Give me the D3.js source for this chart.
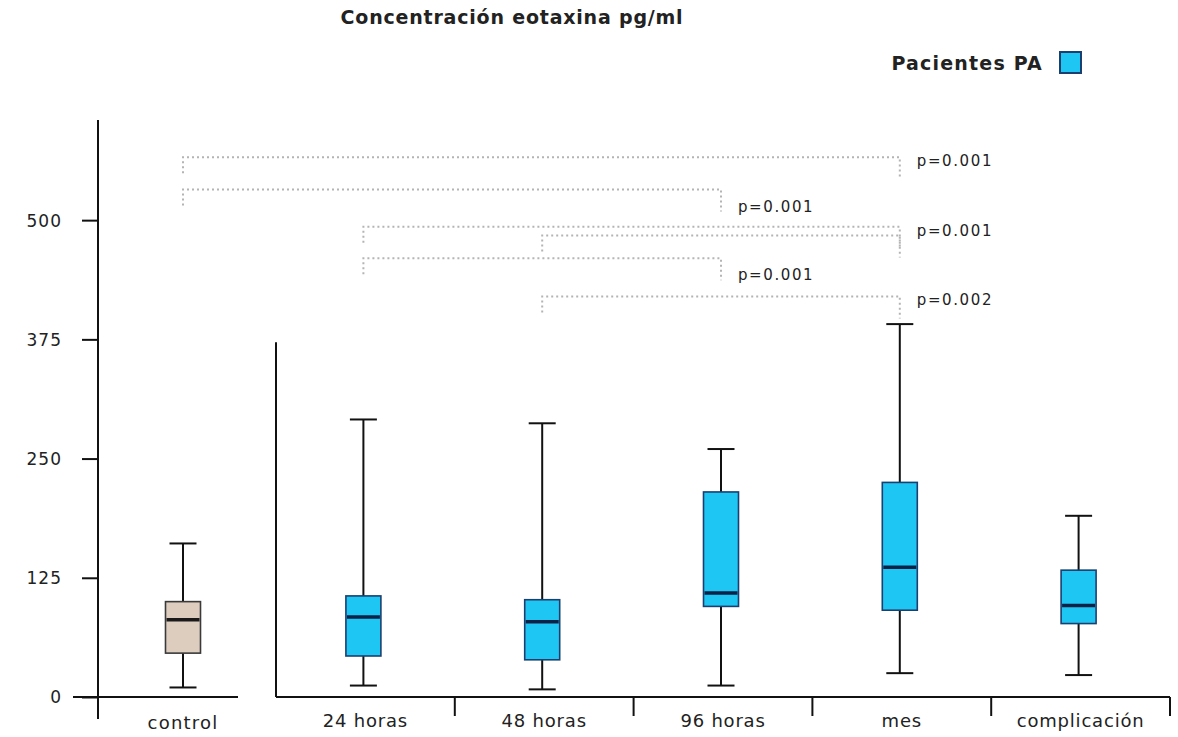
<!DOCTYPE html>
<html>
<head>
<meta charset="utf-8">
<script src="https://cdn.jsdelivr.net/npm/d3@7"></script>
<style>
  html, body { margin: 0; padding: 0; background: #fff; }
  svg { display: block; }
  text { font-family: "DejaVu Sans", Verdana, sans-serif; fill: #222; }
</style>
</head>
<body>
<svg id="chart" width="1178" height="737"></svg>
<script>
// Box-plot summaries per group (pg/ml)
const categories   = ["control", "24 horas", "48 horas", "96 horas", "mes", "complicación"];
const groupOf      = ["control", "PA", "PA", "PA", "PA", "PA"];
const whiskerLow   = [10, 12, 8, 12, 25, 23];
const quartile1    = [46, 43, 39, 95, 91, 77];
const medians      = [81, 84, 79, 109, 136, 96];
const quartile3    = [100, 106, 102, 215, 225, 133];
const whiskerHigh  = [161, 291, 287, 260, 391, 190];

const yTicks = [0, 125, 250, 375, 500];

// Pairwise comparisons drawn as dotted brackets
const compFrom  = ["control", "control", "24 horas", "48 horas", "24 horas", "48 horas"];
const compTo    = ["mes", "96 horas", "mes", "mes", "96 horas", "mes"];
const compLevel = [566, 532, 493, 484, 460, 420];
const compLabel = ["p=0.001", "p=0.001", "p=0.001", "", "p=0.001", "p=0.002"];

const titleText  = "Concentración eotaxina pg/ml";
const legendText = "Pacientes PA";

const colors = { control: "#dccdbf", PA: "#1ec6f4" };
const strokes = { control: "#3a3a3a", PA: "#1d3f70" };
const medianColor = { control: "#1a1a1a", PA: "#0c2146" };

const svg = d3.select("#chart");

const y = d3.scaleLinear().domain([0, 605]).range([697, 120]);

// Control panel and patient panel each get their own band scale
const xControl = d3.scaleBand().domain(["control"]).range([98, 268]);
const patientCats = categories.filter((c, i) => groupOf[i] === "PA");
const xPA = d3.scaleBand().domain(patientCats).range([276, 1170]);
const xPos = c => c === "control" ? xControl(c) + xControl.bandwidth() / 2
                                  : xPA(c) + xPA.bandwidth() / 2 - 2;

// Title
svg.append("text")
  .attr("x", 512).attr("y", 24)
  .attr("text-anchor", "middle")
  .style("font-weight", "bold").style("font-size", "19px")
  .style("letter-spacing", "0.8px")
  .text(titleText);

// Legend
const legend = svg.append("g");
legend.append("text")
  .attr("x", 1043).attr("y", 70)
  .attr("text-anchor", "end")
  .style("font-weight", "bold").style("font-size", "19px")
  .style("letter-spacing", "1.2px")
  .text(legendText);
legend.append("rect")
  .attr("x", 1060).attr("y", 52).attr("width", 21).attr("height", 21)
  .attr("fill", colors.PA).attr("stroke", strokes.PA).attr("stroke-width", 2);

// Y axis
const yAxis = svg.append("g")
  .attr("transform", "translate(98,0)")
  .call(d3.axisLeft(y).tickValues(yTicks).tickSize(16).tickPadding(20));
yAxis.select(".domain").remove();
yAxis.selectAll(".tick line").attr("stroke", "#111").attr("stroke-width", 2);
yAxis.selectAll(".tick text")
  .style("font-size", "17px").style("letter-spacing", "1px")
  .attr("fill", "#222").attr("dy", "0.35em");
svg.append("line")
  .attr("x1", 98).attr("x2", 98).attr("y1", y(605)).attr("y2", y(0) + 22)
  .attr("stroke", "#111").attr("stroke-width", 2);

// Control x axis segment
svg.append("line")
  .attr("x1", 73).attr("x2", 238).attr("y1", y(0)).attr("y2", y(0))
  .attr("stroke", "#111").attr("stroke-width", 2);
svg.append("text")
  .attr("x", xPos("control")).attr("y", 729)
  .attr("text-anchor", "middle")
  .style("font-size", "18px").style("letter-spacing", "1.2px")
  .text("control");

// Patient panel axes
svg.append("line")
  .attr("x1", 276).attr("x2", 276).attr("y1", y(372)).attr("y2", y(0))
  .attr("stroke", "#111").attr("stroke-width", 2);
const xAxisPA = svg.append("g")
  .attr("transform", `translate(0,${y(0)})`)
  .call(d3.axisBottom(xPA).tickSize(0).tickPadding(26));
xAxisPA.select(".domain").attr("stroke", "#111").attr("stroke-width", 2)
  .attr("d", `M276,0H1170`);
xAxisPA.selectAll(".tick text")
  .style("font-size", "18px").style("letter-spacing", "0.8px")
  .attr("fill", "#222").attr("dy", "0.2em");
// boundary ticks between patient categories
xAxisPA.selectAll(".bound")
  .data(patientCats.slice(1).concat(["__end"]))
  .join("line")
  .attr("class", "bound")
  .attr("x1", d => d === "__end" ? xPA.range()[1] : xPA(d))
  .attr("x2", d => d === "__end" ? xPA.range()[1] : xPA(d))
  .attr("y1", 0).attr("y2", 19)
  .attr("stroke", "#111").attr("stroke-width", 2);

// Boxes
const boxW = 35, capW = 27;
const rows = categories.map((c, i) => ({
  cat: c, group: groupOf[i],
  lo: whiskerLow[i], q1: quartile1[i], med: medians[i], q3: quartile3[i], hi: whiskerHigh[i]
}));

const boxes = svg.append("g").selectAll("g.box").data(rows).join("g").attr("class", "box");
boxes.append("line")
  .attr("x1", d => xPos(d.cat)).attr("x2", d => xPos(d.cat))
  .attr("y1", d => y(d.hi)).attr("y2", d => y(d.lo))
  .attr("stroke", "#111").attr("stroke-width", 2);
boxes.append("line")
  .attr("x1", d => xPos(d.cat) - capW / 2).attr("x2", d => xPos(d.cat) + capW / 2)
  .attr("y1", d => y(d.hi)).attr("y2", d => y(d.hi))
  .attr("stroke", "#111").attr("stroke-width", 2);
boxes.append("line")
  .attr("x1", d => xPos(d.cat) - capW / 2).attr("x2", d => xPos(d.cat) + capW / 2)
  .attr("y1", d => y(d.lo)).attr("y2", d => y(d.lo))
  .attr("stroke", "#111").attr("stroke-width", 2);
boxes.append("rect")
  .attr("x", d => xPos(d.cat) - boxW / 2).attr("width", boxW)
  .attr("y", d => y(d.q3)).attr("height", d => y(d.q1) - y(d.q3))
  .attr("fill", d => colors[d.group])
  .attr("stroke", d => strokes[d.group]).attr("stroke-width", 1.6);
boxes.append("line")
  .attr("x1", d => xPos(d.cat) - boxW / 2 + 1).attr("x2", d => xPos(d.cat) + boxW / 2 - 1)
  .attr("y1", d => y(d.med)).attr("y2", d => y(d.med))
  .attr("stroke", d => medianColor[d.group]).attr("stroke-width", 3.5);

// Significance brackets
const comps = compFrom.map((f, i) => ({ from: f, to: compTo[i], level: compLevel[i], label: compLabel[i] }));
const br = svg.append("g").selectAll("g.cmp").data(comps).join("g").attr("class", "cmp");
br.append("path")
  .attr("d", d => {
    const x0 = xPos(d.from), x1 = xPos(d.to), yy = y(d.level);
    return `M${x0},${yy + 16}V${yy}H${x1}V${yy + 22}`;
  })
  .attr("fill", "none").attr("stroke", "#b4b4b4")
  .attr("stroke-width", 2).attr("stroke-dasharray", "2,3");
br.filter(d => d.label).append("text")
  .attr("x", d => xPos(d.to) + 17)
  .attr("y", d => y(d.level) + (d.to === "mes" ? 9 : 22))
  .style("font-size", "15px").style("letter-spacing", "1.6px")
  .text(d => d.label);
</script>
</body>
</html>
